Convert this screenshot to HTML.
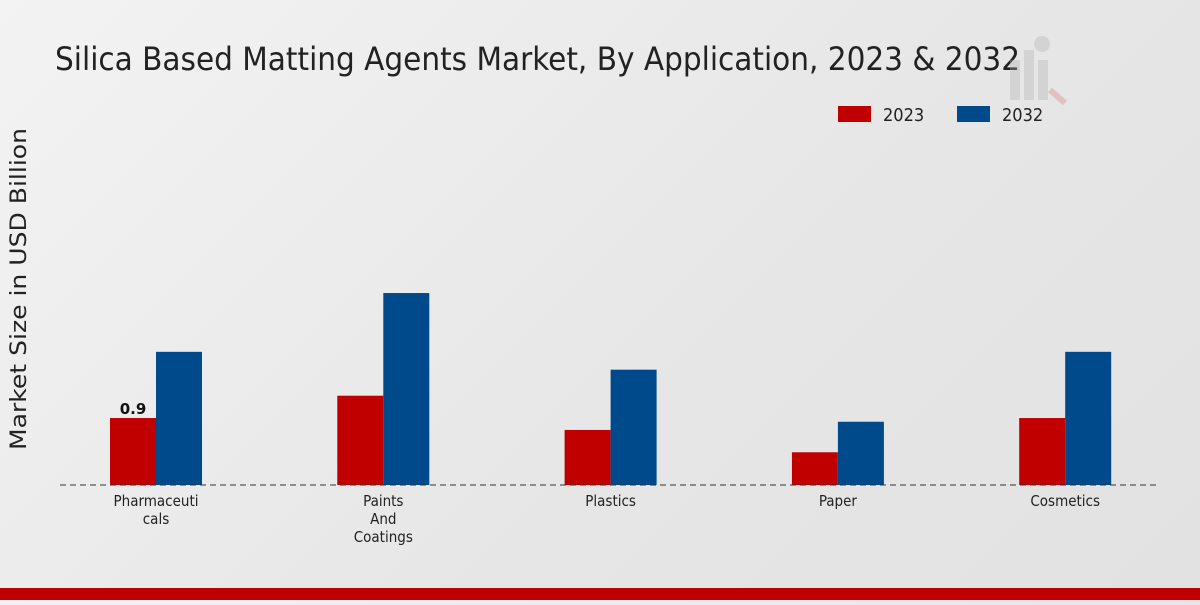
<!DOCTYPE html>
<html><head><meta charset="utf-8"><style>
body{margin:0;width:1200px;height:600px;overflow:hidden;background:linear-gradient(135deg,#f3f3f3 0%,#e6e6e6 60%,#e2e2e2 100%);font-family:"Liberation Sans","DejaVu Sans",sans-serif;}
</style></head><body>
<svg width="1200" height="600">
<text x="55" y="70" font-size="32" fill="#222" style="font-family:'DejaVu Sans Condensed','Liberation Sans Narrow','Liberation Sans',sans-serif" textLength="965" lengthAdjust="spacingAndGlyphs">Silica Based Matting Agents Market, By Application, 2023 &amp; 2032</text>
<g opacity="0.35" fill="#b0b0b0">
<rect x="1010" y="60" width="10" height="40"/><rect x="1024" y="50" width="10" height="50"/><rect x="1038" y="60" width="10" height="40"/>
<circle cx="1042" cy="44" r="8"/><line x1="1050" y1="90" x2="1065" y2="103" stroke="#d08080" stroke-width="6"/></g>
<g>
<rect x="838" y="106" width="33" height="16" fill="#c00000"/>
<text x="883" y="121" font-size="18" fill="#222" style="font-family:'DejaVu Sans Condensed',sans-serif">2023</text>
<rect x="957" y="106" width="33" height="16" fill="#004a8c"/>
<text x="1002" y="121" font-size="18" fill="#222" style="font-family:'DejaVu Sans Condensed',sans-serif">2032</text>
</g>
<text transform="translate(26,289) rotate(-90)" text-anchor="middle" font-size="22" fill="#222" style="font-family:'DejaVu Sans',sans-serif" textLength="322" lengthAdjust="spacingAndGlyphs">Market Size in USD Billion</text>
<g id="bars"></g>
<line x1="60" y1="485" x2="1160" y2="485" stroke="#333" stroke-dasharray="6,4"/>
<g id="labels"></g>
<rect x="0" y="588" width="1200" height="12" fill="#c00000"/>
</svg>
<script>
const categories=[["Pharmaceuti","cals"],["Paints","And","Coatings"],["Plastics"],["Paper"],["Cosmetics"]];
const values2023=[0.9,1.2,0.74,0.44,0.9];
const values2032=[1.79,2.58,1.55,0.85,1.79];
const ns="http://www.w3.org/2000/svg";
const base=485, scale=74.4, x0=156, step=227.3, bw=46;
const y=v=>base-v*scale;
const xc=i=>x0+i*step;
const bars=document.getElementById('bars'),labels=document.getElementById('labels');
categories.forEach((c,i)=>{
 [[values2023,'#c00000',-bw,'2023'],[values2032,'#004a8c',0,'2032']].forEach(([arr,col,off,yr])=>{
  const r=document.createElementNS(ns,'rect');
  r.setAttribute('x',xc(i)+off);r.setAttribute('y',y(arr[i]));r.setAttribute('width',bw);r.setAttribute('height',base-y(arr[i]));r.setAttribute('fill',col);
  
  
  bars.appendChild(r);
 });
 c.forEach((ln,k)=>{
  const t=document.createElementNS(ns,'text');
  t.setAttribute('x',xc(i));t.setAttribute('y',506+k*18);t.setAttribute('text-anchor','middle');t.setAttribute('font-size','15');t.setAttribute('fill','#222');
  t.setAttribute('style',"font-family:'DejaVu Sans Condensed',sans-serif");
  t.textContent=ln;
  
  
  labels.appendChild(t);
 });
});
const v=document.createElementNS(ns,'text');
v.setAttribute('x',xc(0)-bw/2);v.setAttribute('y',y(values2023[0])-4);v.setAttribute('text-anchor','middle');v.setAttribute('font-size','15');v.setAttribute('font-weight','bold');v.setAttribute('fill','#111');
v.setAttribute('style',"font-family:'DejaVu Sans',sans-serif");
v.textContent=values2023[0];


labels.appendChild(v);
</script>
</body></html>
